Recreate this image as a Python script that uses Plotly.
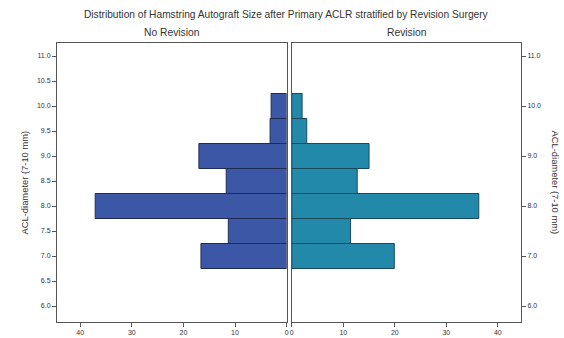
import plotly.graph_objects as go

diameters = [7.0, 7.5, 8.0, 8.5, 9.0, 9.5, 10.0]
no_revision_pct = [16.6, 11.3, 37.1, 11.7, 17.0, 3.2, 3.0]
revision_pct = [19.9, 11.4, 36.3, 12.7, 15.0, 2.9, 2.0]
left_yticks = [6.0, 6.5, 7.0, 7.5, 8.0, 8.5, 9.0, 9.5, 10.0, 10.5, 11.0]
right_yticks = [6.0, 7.0, 8.0, 9.0, 10.0, 11.0]
xticks = [0, 10, 20, 30, 40]
panel_titles = ["No Revision", "Revision"]
main_title = "Distribution of Hamstring Autograft Size after Primary ACLR stratified by Revision Surgery"
y_title = "ACL-diameter (7-10 mm)"

W, H = 564, 338
L, R, T, B = 57, 43, 43, 16
pw = W - L - R
ph = H - T - B

def px_x(x):
    return (x - L) / pw

def px_y(y):
    return 1 + (T - y) / ph

FONT = "Liberation Sans"
AX = "#555555"
TXT = "#333333"

fig = go.Figure()
fig.add_trace(go.Bar(
    y=diameters, x=no_revision_pct, orientation="h", width=0.5,
    marker=dict(color="#3D57A7", line=dict(color="#1F2B52", width=1)),
    xaxis="x", yaxis="y", showlegend=False, hoverinfo="skip"))
fig.add_trace(go.Bar(
    y=diameters, x=revision_pct, orientation="h", width=0.5,
    marker=dict(color="#2389AA", line=dict(color="#1A4A5A", width=1)),
    xaxis="x2", yaxis="y2", showlegend=False, hoverinfo="skip"))

yr = [5.68, 11.26]
xmax = 44.5
tickfont = dict(family=FONT, size=7, color=TXT)
common_axis = dict(showgrid=False, zeroline=False, showline=True, linecolor=AX,
                   linewidth=1, mirror=True, ticks="outside", ticklen=4,
                   tickcolor=AX, tickfont=tickfont, automargin=False)

fig.update_layout(
    width=W, height=H,
    margin=dict(l=L, r=R, t=T, b=B, autoexpand=False),
    paper_bgcolor="white", plot_bgcolor="white",
    bargap=0,
    xaxis=dict(domain=[0, px_x(286.6)], range=[xmax, 0], tickvals=xticks,
               anchor="y", **common_axis),
    xaxis2=dict(domain=[px_x(291.8), 1], range=[0, xmax], tickvals=xticks,
                anchor="y2", **common_axis),
    yaxis=dict(range=yr, tickvals=left_yticks,
               ticktext=[f"{v:.1f}" for v in left_yticks], anchor="x",
               **common_axis),
    yaxis2=dict(range=yr, tickvals=right_yticks,
                ticktext=[f"{v:.1f}" for v in right_yticks], anchor="x2",
                side="right", **common_axis),
)

ann = []
ann.append(dict(text=main_title, x=px_x(286), y=px_y(14), xref="paper", yref="paper",
                showarrow=False, xanchor="center", yanchor="middle",
                font=dict(family=FONT, size=10.2, color=TXT)))
ann.append(dict(text=panel_titles[0], x=px_x(172), y=px_y(32.5), xref="paper", yref="paper",
                showarrow=False, xanchor="center", yanchor="middle",
                font=dict(family=FONT, size=10.3, color=TXT)))
ann.append(dict(text=panel_titles[1], x=px_x(407), y=px_y(32.5), xref="paper", yref="paper",
                showarrow=False, xanchor="center", yanchor="middle",
                font=dict(family=FONT, size=10.3, color=TXT)))
ann.append(dict(text=y_title, x=px_x(24), y=0.5, xref="paper", yref="paper",
                showarrow=False, xanchor="center", yanchor="middle", textangle=-90,
                font=dict(family=FONT, size=9.4, color=TXT)))
ann.append(dict(text=y_title, x=px_x(555), y=0.5, xref="paper", yref="paper",
                showarrow=False, xanchor="center", yanchor="middle", textangle=90,
                font=dict(family=FONT, size=9.4, color=TXT)))
fig.update_layout(annotations=ann)

fig.write_html("out.html", config={"displayModeBar": False, "staticPlot": True},
               post_script="document.body.style.margin='0';document.body.style.overflow='hidden';")
